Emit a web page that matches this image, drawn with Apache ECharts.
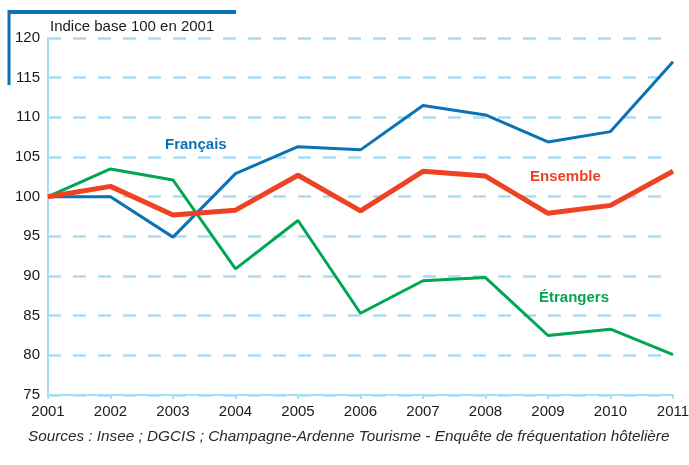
<!DOCTYPE html>
<html>
<head>
<meta charset="utf-8">
<script src="https://cdn.jsdelivr.net/npm/echarts@6/dist/echarts.min.js"></script>
<style>
html,body{margin:0;padding:0;background:#fff;}
#main{width:689px;height:465px;}
</style>
</head>
<body>
<div id="main"></div>
<script>
// données (indice base 100 en 2001)
var annees = ['2001','2002','2003','2004','2005','2006','2007','2008','2009','2010','2011'];
var francais = [100, 100.0, 94.9, 102.9, 106.3, 105.9, 111.5, 110.3, 106.9, 108.2, 117.0];
var ensemble = [100, 101.3, 97.7, 98.3, 102.7, 98.2, 103.2, 102.6, 97.9, 98.9, 103.2];
var etrangers = [100, 103.5, 102.1, 90.9, 97.0, 85.3, 89.4, 89.8, 82.5, 83.3, 80.1];

var bleu = '#0b72b5', rouge = '#ef4123', vert = '#00a651', grille = '#aadcf5';
var police = '"Liberation Sans", Arial, sans-serif';

var myChart = echarts.init(document.getElementById('main'));
var option = {
    animation: false,
    grid: { left: 48, right: 16, top: 38, bottom: 70, outerBoundsMode: 'none' },
    xAxis: {
        type: 'category',
        data: annees,
        boundaryGap: false,
        axisLine: { lineStyle: { color: grille, width: 2 } },
        axisTick: { show: true, inside: false, length: 4, lineStyle: { color: grille, width: 2 } },
        axisLabel: { color: '#1a1a1a', fontSize: 15, fontFamily: police, margin: 9 },
        splitLine: { show: false }
    },
    yAxis: {
        type: 'value',
        min: 75, max: 120, interval: 5,
        axisLine: { show: true, lineStyle: { color: grille, width: 2 } },
        axisTick: { show: false },
        axisLabel: { color: '#1a1a1a', fontSize: 15, fontFamily: police, margin: 8 },
        splitLine: { show: true, lineStyle: { color: grille, width: 2.5, type: [13, 12] } }
    },
    series: [
        { name: 'Étrangers', type: 'line', data: etrangers, symbol: 'none',
          lineStyle: { color: vert, width: 3 }, z: 3 },
        { name: 'Français', type: 'line', data: francais, symbol: 'none',
          lineStyle: { color: bleu, width: 3 }, z: 4 },
        { name: 'Ensemble', type: 'line', data: ensemble, symbol: 'none',
          lineStyle: { color: rouge, width: 5 }, z: 5 }
    ],
    graphic: [
        // cadre bleu du titre
        { type: 'line', shape: { x1: 8, y1: 12, x2: 236, y2: 12 }, style: { stroke: bleu, lineWidth: 4 } },
        { type: 'line', shape: { x1: 9, y1: 10, x2: 9, y2: 85 }, style: { stroke: bleu, lineWidth: 3 } },
        { type: 'text', left: 50, top: 19, style: { text: 'Indice base 100 en 2001', fill: '#1a1a1a', font: '15px ' + police } },
        { type: 'text', left: 165, top: 137, style: { text: 'Français', fill: bleu, font: 'bold 15px ' + police } },
        { type: 'text', left: 530, top: 169, style: { text: 'Ensemble', fill: rouge, font: 'bold 15px ' + police } },
        { type: 'text', left: 539, top: 290, style: { text: 'Étrangers', fill: vert, font: 'bold 15px ' + police } },
        { type: 'text', left: 28, top: 429, style: { text: 'Sources : Insee ; DGCIS ; Champagne-Ardenne Tourisme - Enquête de fréquentation hôtelière', fill: '#2a2a2a', font: 'italic 15.3px ' + police } }
    ]
};
myChart.setOption(option);
</script>
</body>
</html>
